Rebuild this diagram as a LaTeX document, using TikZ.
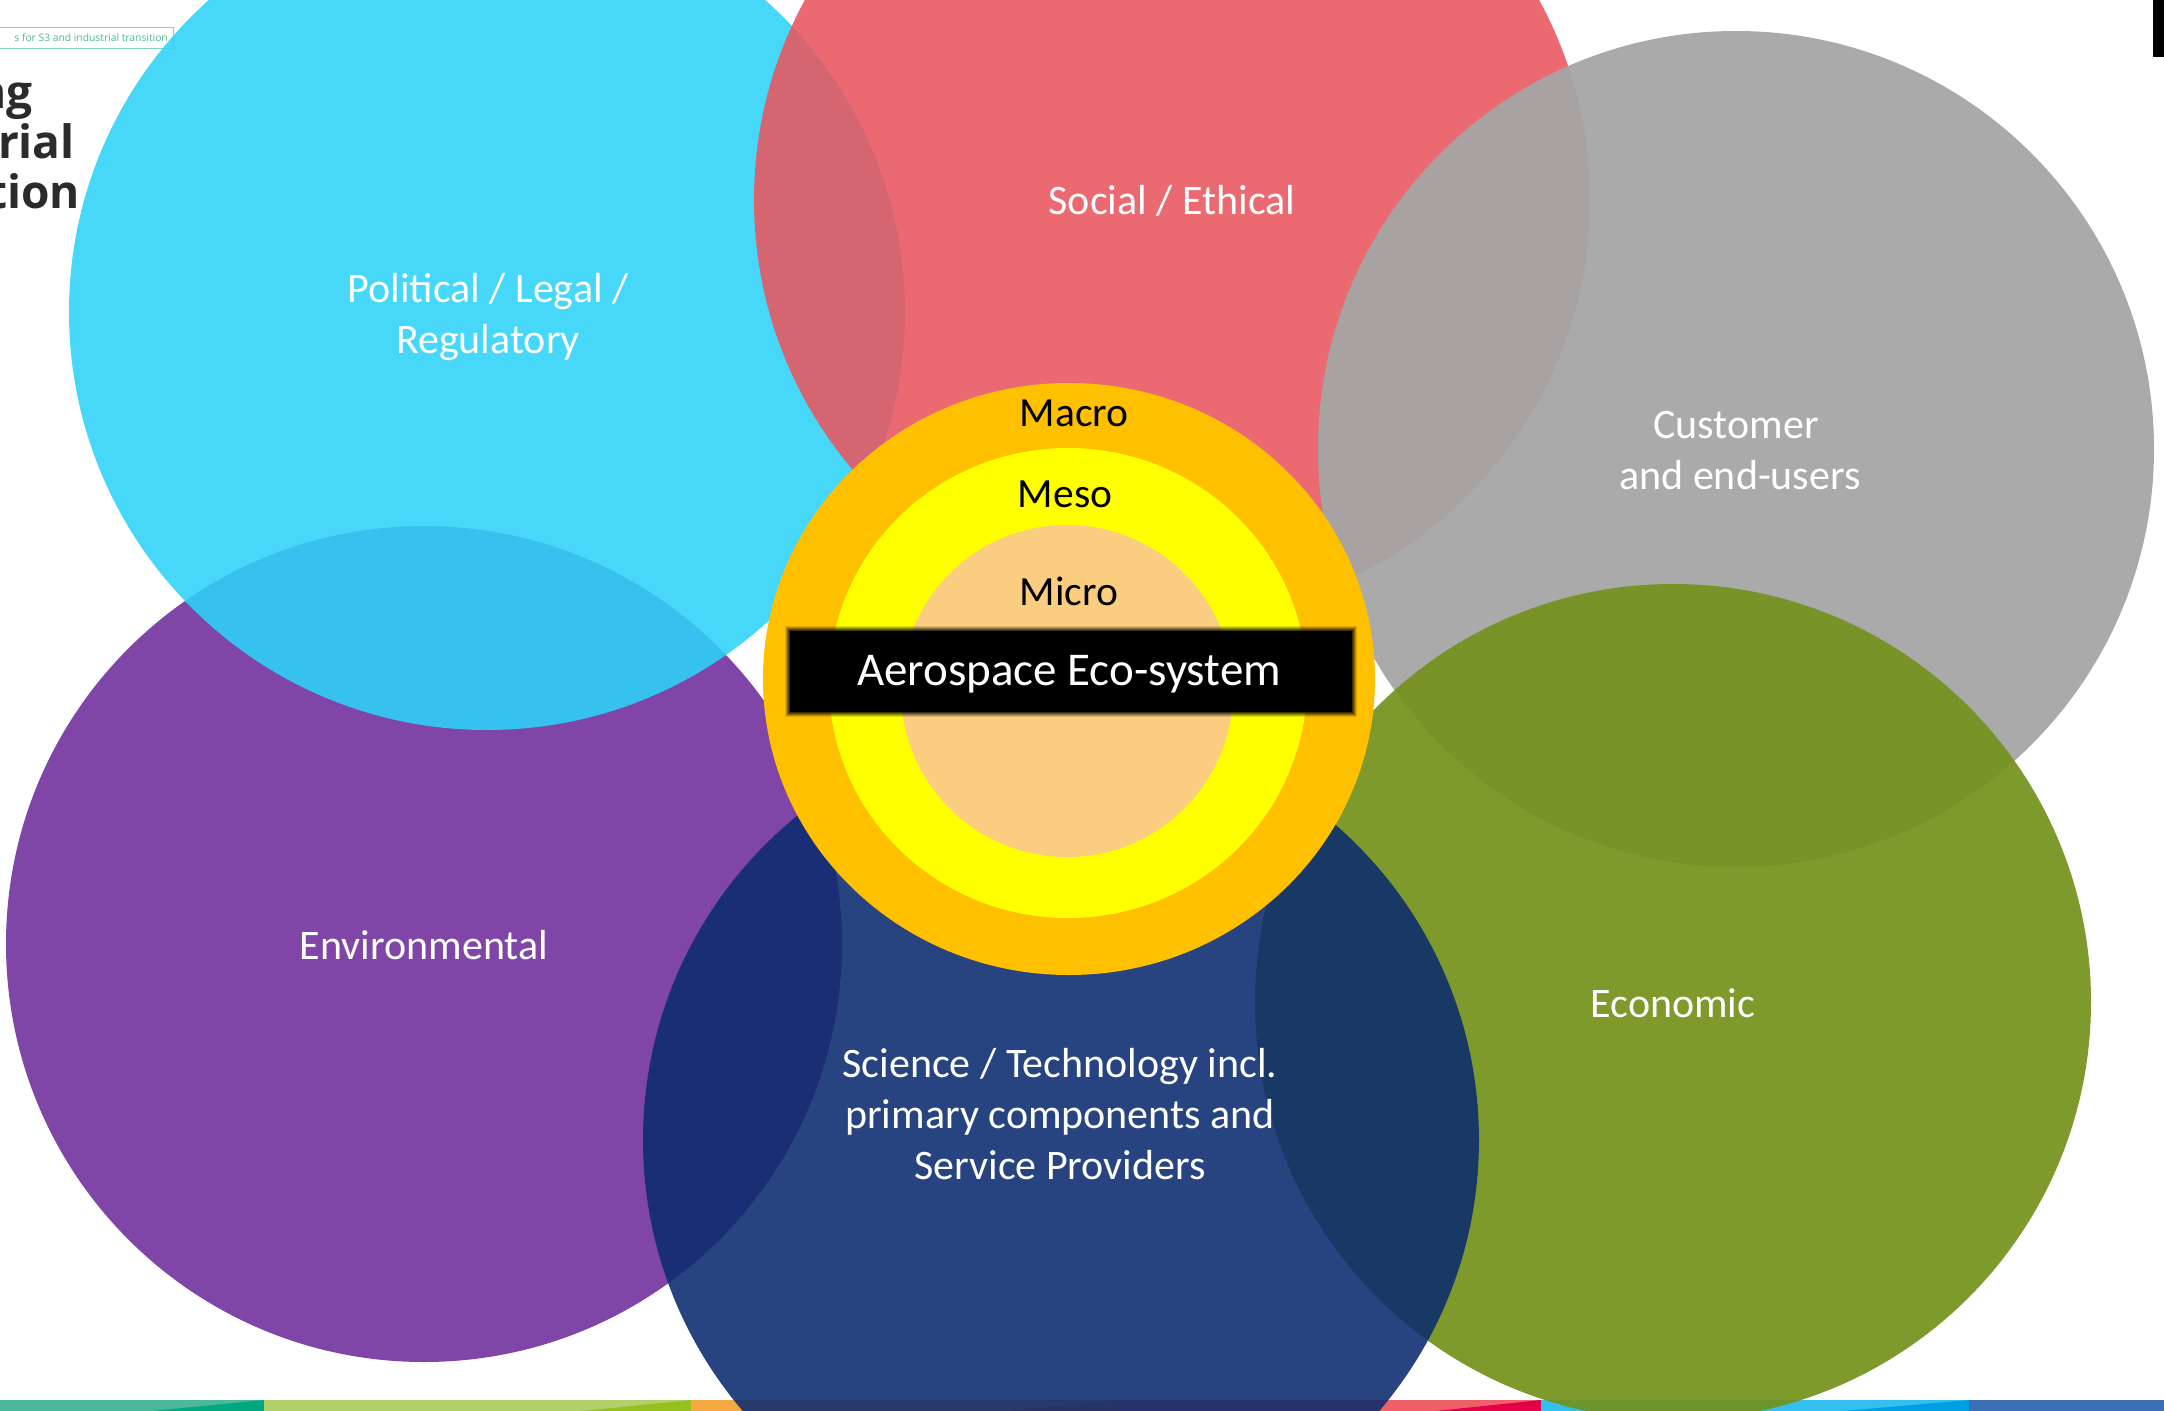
\documentclass[tikz,border=0pt]{standalone}
\usepackage{fontspec}
\setmainfont{Carlito}
\newfontfamily\osans{Open Sans}
\definecolor{cyanC}{RGB}{46,211,249}
\definecolor{redC}{RGB}{233,86,95}
\definecolor{greyC}{RGB}{166,166,166}
\definecolor{greenC}{RGB}{116,146,28}
\definecolor{navyC}{RGB}{11,43,111}
\definecolor{purpleC}{RGB}{110,45,156}
\definecolor{ringO}{RGB}{255,192,0}
\definecolor{ringY}{RGB}{255,255,0}
\definecolor{ringP}{RGB}{250,205,128}
\definecolor{tealL}{RGB}{76,184,154}
\definecolor{tealD}{RGB}{0,169,130}
\definecolor{grnL}{RGB}{176,208,106}
\definecolor{grnD}{RGB}{149,193,31}
\definecolor{orgL}{RGB}{247,169,65}
\definecolor{orgD}{RGB}{240,130,40}
\definecolor{redL}{RGB}{238,95,102}
\definecolor{redD}{RGB}{228,0,70}
\definecolor{lbL}{RGB}{51,191,240}
\definecolor{lbD}{RGB}{0,159,227}
\definecolor{blueS}{RGB}{59,112,182}
\definecolor{boxBorder}{RGB}{127,211,192}
\definecolor{boxText}{RGB}{76,184,154}
\definecolor{darkText}{RGB}{43,43,43}
\begin{document}
\begin{tikzpicture}[x=1pt,y=-1pt,
  lab/.style={text=white,font=\fontsize{42}{51}\selectfont,anchor=base,inner sep=0pt},
  ringlab/.style={text=black,font=\fontsize{41.5}{48}\selectfont,anchor=base,inner sep=0pt},
  bigtext/.style={text=darkText,font=\osans\bfseries\fontsize{46}{50}\selectfont,anchor=base east,inner sep=0pt},
  disc/.style={opacity=0.88}]
\useasboundingbox (0,0) rectangle (2164,1411);
\clip (0,0) rectangle (2164,1411);
\fill[white] (0,0) rectangle (2164,1411);
% bottom strip
\fill[tealL] (0,1400) rectangle (264,1411);
\fill[tealD] (151,1411) -- (264,1400) -- (264,1411) -- cycle;
\fill[grnL] (264,1400) rectangle (691,1411);
\fill[grnD] (582,1411) -- (691,1400) -- (691,1411) -- cycle;
\fill[orgL] (691,1400) rectangle (1116,1411);
\fill[orgD] (1006,1411) -- (1116,1400) -- (1116,1411) -- cycle;
\fill[redL] (1116,1400) rectangle (1541,1411);
\fill[redD] (1436,1411) -- (1541,1400) -- (1541,1411) -- cycle;
\fill[lbL] (1541,1400) rectangle (1969,1411);
\fill[lbD] (1843,1411) -- (1969,1400) -- (1969,1411) -- cycle;
\fill[blueS] (1969,1400) rectangle (2164,1411);
% top-left heading fragments
\node[text=boxText,font=\osans\fontsize{10.3}{12}\selectfont,anchor=east,inner sep=0pt] (tag) at (168,38) {s for S3 and industrial transition};
\draw[boxBorder,line width=1pt] (-5,27) rectangle (173,48);
\node[bigtext] (h1) at (33,108) {ng};
\node[bigtext] (h2) at (75,158) {rial};
\node[bigtext] (h3) at (80,208) {tion};
% top-right mark
\fill[black] (2153,0) rectangle (2164,57);
% circles
\fill[purpleC,disc] (424,944) circle[radius=418pt];
\fill[cyanC,disc] (487,312) circle[radius=418pt];
\fill[redC,disc] (1172,200) circle[radius=418pt];
\fill[greyC,opacity=0.95] (1736,449) circle[radius=418pt];
\fill[greenC,opacity=0.92] (1673,1002) circle[radius=418pt];
\fill[navyC,disc] (1061,1140) circle[radius=418pt];
% labels
\node[lab] (pol1) at (488,302) {Political / Legal /};
\node[lab] (pol2) at (488,353) {Regulatory};
\node[lab] (soc) at (1172,214) {Social / Ethical};
\node[lab] (cus1) at (1736,438) {Customer};
\node[lab] (cus2) at (1740,489) {and end-users};
\node[lab] (env) at (424,959) {Environmental};
\node[lab] (eco) at (1673,1017) {Economic};
\node[lab] (sci1) at (1060,1077) {Science / Technology incl.};
\node[lab] (sci2) at (1060,1128) {primary components and};
\node[lab] (sci3) at (1060,1179) {Service Providers};
% rings
\fill[ringO] (1069,679) ellipse[x radius=306pt,y radius=296pt];
\fill[ringY] (1068,683) ellipse[x radius=239pt,y radius=235pt];
\fill[ringP] (1067,691) circle[radius=166pt];
\node[ringlab] (macro) at (1074,426) {Macro};
\node[ringlab] (meso) at (1065,507) {Meso};
\node[ringlab] (micro) at (1069,605) {Micro};
% blurred black box
\foreach \e/\o in {5/0.12,4/0.18,3/0.24,2/0.3,1/0.4}{
  \fill[black,opacity=\o] (790-\e,631-\e) rectangle (1352+\e,712+\e);
}
\fill[black] (790,631) rectangle (1352,712);
\node[text=white,font=\fontsize{47}{54}\selectfont,anchor=base,inner sep=0pt] (aero) at (1069,685) {Aerospace Eco-system};
\end{tikzpicture}
\end{document}
